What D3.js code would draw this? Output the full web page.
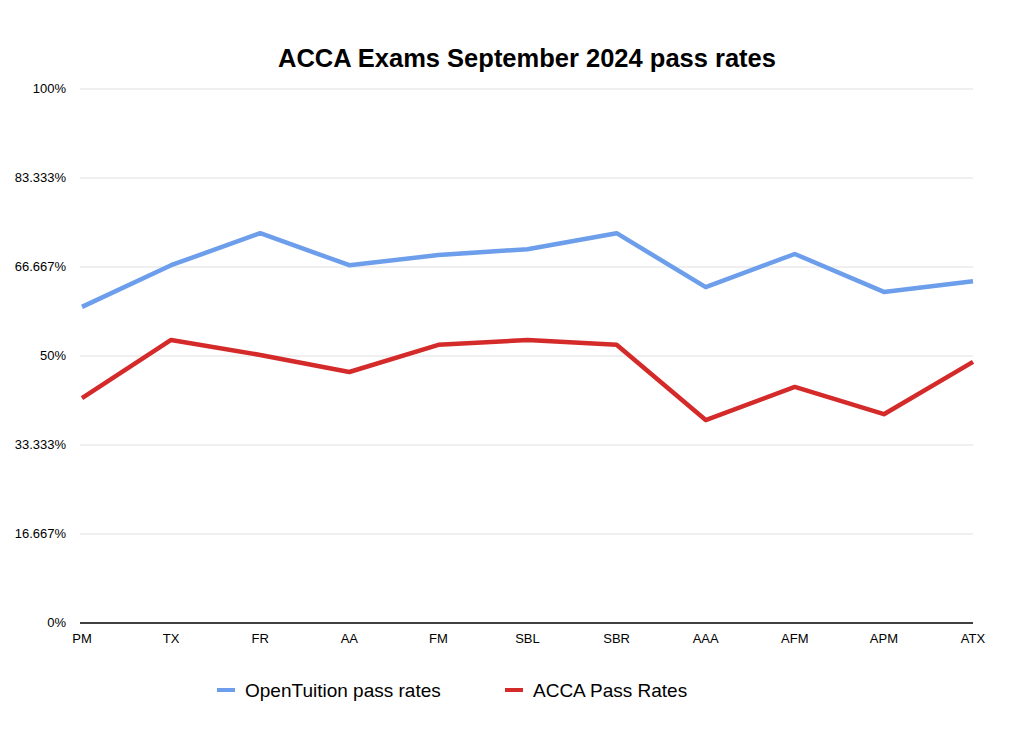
<!DOCTYPE html><html><head><meta charset="utf-8"><script src="https://cdn.jsdelivr.net/npm/d3@7"></script>
<style>body{margin:0;background:#fff}svg{font-family:"Liberation Sans",Arial,sans-serif}</style></head><body>
<svg id="c" width="1024" height="737"></svg>
<script>
const categories=["PM","TX","FR","AA","FM","SBL","SBR","AAA","AFM","APM","ATX"];
const openTuition=[59.2,67.0,73.0,67.0,68.9,70.0,73.0,62.9,69.1,62.0,64.0];
const accaRates=[42.1,53.0,50.2,47.0,52.1,53.0,52.1,38.0,44.2,39.1,48.9];
const tickValues=[0,100/6,200/6,50,400/6,500/6,100];
const tickLabels=["0%","16.667%","33.333%","50%","66.667%","83.333%","100%"];
const svg=d3.select("#c");
const x=d3.scalePoint().domain(categories).range([82,973]);
const y=d3.scaleLinear().domain([0,100]).range([623,89]);
svg.append("text").attr("x",527).attr("y",67).attr("text-anchor","middle").attr("font-size",25.5).attr("font-weight","bold").text("ACCA Exams September 2024 pass rates");
tickValues.forEach((v,i)=>{
 if(i>0) svg.append("line").attr("x1",80).attr("x2",973).attr("y1",y(v)).attr("y2",y(v)).attr("stroke","#e0e0e0");
 svg.append("text").attr("x",66).attr("y",y(v)+4).attr("text-anchor","end").attr("font-size",13).text(tickLabels[i]);
});
svg.append("line").attr("x1",80).attr("x2",973).attr("y1",623).attr("y2",623).attr("stroke","#000").attr("stroke-width",1.5);
categories.forEach(c=>svg.append("text").attr("x",x(c)).attr("y",643).attr("text-anchor","middle").attr("font-size",13).text(c));
const line=d3.line().x((d,i)=>x(categories[i])).y(d=>y(d));
svg.append("path").attr("d",line(openTuition)).attr("fill","none").attr("stroke","#6d9eeb").attr("stroke-width",4.5).attr("stroke-linejoin","round");
svg.append("path").attr("d",line(accaRates)).attr("fill","none").attr("stroke","#d42a2a").attr("stroke-width",4.5).attr("stroke-linejoin","round");
[["OpenTuition pass rates","#6d9eeb",217],["ACCA Pass Rates","#d42a2a",505]].forEach(([t,c,lx])=>{
 svg.append("line").attr("x1",lx).attr("x2",lx+18).attr("y1",690).attr("y2",690).attr("stroke",c).attr("stroke-width",4);
 svg.append("text").attr("x",lx+28).attr("y",697).attr("font-size",19).text(t);
});
</script></body></html>
